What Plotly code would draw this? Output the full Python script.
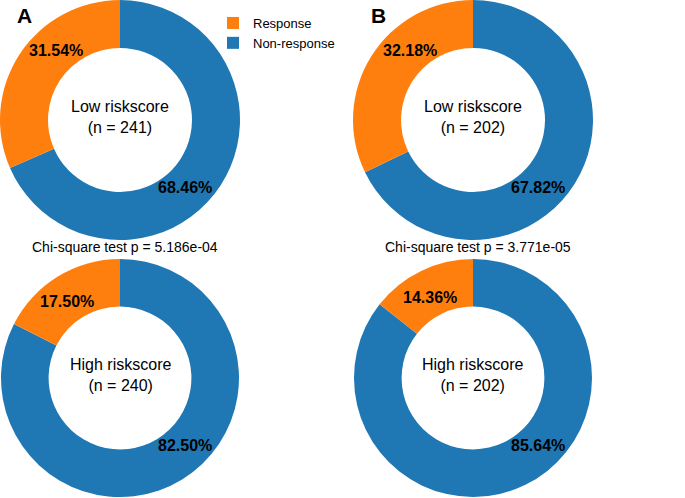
import plotly.graph_objects as go

# ---- data ----
labels = ["Response", "Non-response"]
panels = ["A", "B"]
groups = ["Low riskscore", "High riskscore"]
n_counts = [[241, 240], [202, 202]]                 # [panel][group]
response_pct = [[31.54, 17.50], [32.18, 14.36]]
nonresponse_pct = [[68.46, 82.50], [67.82, 85.64]]
chi_p = ["5.186e-04", "3.771e-05"]

# ---- style / layout ----
W, H = 685, 498
color_map = {"Response": "#ff7f0e", "Non-response": "#1f77b4"}
FONT = "Liberation Sans, Arial, sans-serif"
# pie domains in pixels: (x0, x1) per panel, (ytop, ybottom) per group
col_px = [(0, 240), (353, 593)]
row_px = [(0, 240), (259, 497)]
# percentage label offsets from pie centre in px (dx, dy downwards)
resp_off = [[(-64, -70), (-53, -77)], [(-63, -70), (-43, -81)]]
nonresp_off = [[(65, 67), (65, 67)], [(65, 67), (65, 67)]]

fig = go.Figure()
annotations = []
for p in range(2):
    for g in range(2):
        x0, x1 = col_px[p]
        yt, yb = row_px[g]
        # drawn clockwise from 12 o'clock: Non-response first, Response ends at top
        lab = labels[::-1]
        vals = [nonresponse_pct[p][g], response_pct[p][g]]
        fig.add_trace(go.Pie(
            labels=lab,
            values=vals,
            marker=dict(colors=[color_map[l] for l in lab], line=dict(width=0)),
            hole=0.6,
            sort=False,
            direction="clockwise",
            rotation=0,
            textinfo="none",
            hoverinfo="label+percent",
            domain=dict(x=[x0 / W, x1 / W], y=[1 - yb / H, 1 - yt / H]),
            showlegend=(g == 0),
            legend="legend" if p == 0 else "legend2",
        ))
        cx = (x0 + x1) / 2
        cy = (yt + yb) / 2
        # centre label
        annotations.append(dict(
            x=cx / W, y=1 - (cy - 3) / H, xref="paper", yref="paper",
            showarrow=False,
            text=f"{groups[g]}<br>(n = {n_counts[p][g]})",
            font=dict(family=FONT, size=16, color="#000"),
            xanchor="center", yanchor="middle", align="center"))
        for val, off in ((response_pct[p][g], resp_off[p][g]),
                         (nonresponse_pct[p][g], nonresp_off[p][g])):
            annotations.append(dict(
                x=(cx + off[0]) / W, y=1 - (cy + off[1]) / H,
                xref="paper", yref="paper", showarrow=False,
                text=f"<b>{val:.2f}%</b>",
                font=dict(family=FONT, size=16, color="#000"),
                xanchor="center", yanchor="middle"))
    # chi-square text
    cx = sum(col_px[p]) / 2
    annotations.append(dict(
        x=(cx + 5) / W, y=1 - 247 / H, xref="paper", yref="paper",
        showarrow=False, text=f"Chi-square test p = {chi_p[p]}",
        font=dict(family=FONT, size=14, color="#000"),
        xanchor="center", yanchor="middle"))
    # panel letter
    annotations.append(dict(
        x=(24 if p == 0 else 379) / W, y=1 - 15 / H, xref="paper", yref="paper",
        showarrow=False, text=f"<b>{panels[p]}</b>",
        font=dict(family=FONT, size=21, color="#000"),
        xanchor="center", yanchor="middle"))

legend_style = dict(font=dict(family=FONT, size=13, color="#000"),
                    yanchor="top", xanchor="left", bgcolor="rgba(0,0,0,0)",
                    tracegroupgap=0, traceorder="reversed")
fig.update_layout(
    width=W, height=H,
    margin=dict(l=0, r=0, t=0, b=0),
    paper_bgcolor="white",
    annotations=annotations,
    legend=dict(x=213 / W, y=1 - 8 / H, **legend_style),
    legend2=dict(x=568 / W, y=1 - 8 / H, **legend_style),
)
fig.write_html("out.html",
               config={"displayModeBar": False},
               post_script="document.body.style.margin='0';"
                           "document.body.style.overflow='hidden';")
